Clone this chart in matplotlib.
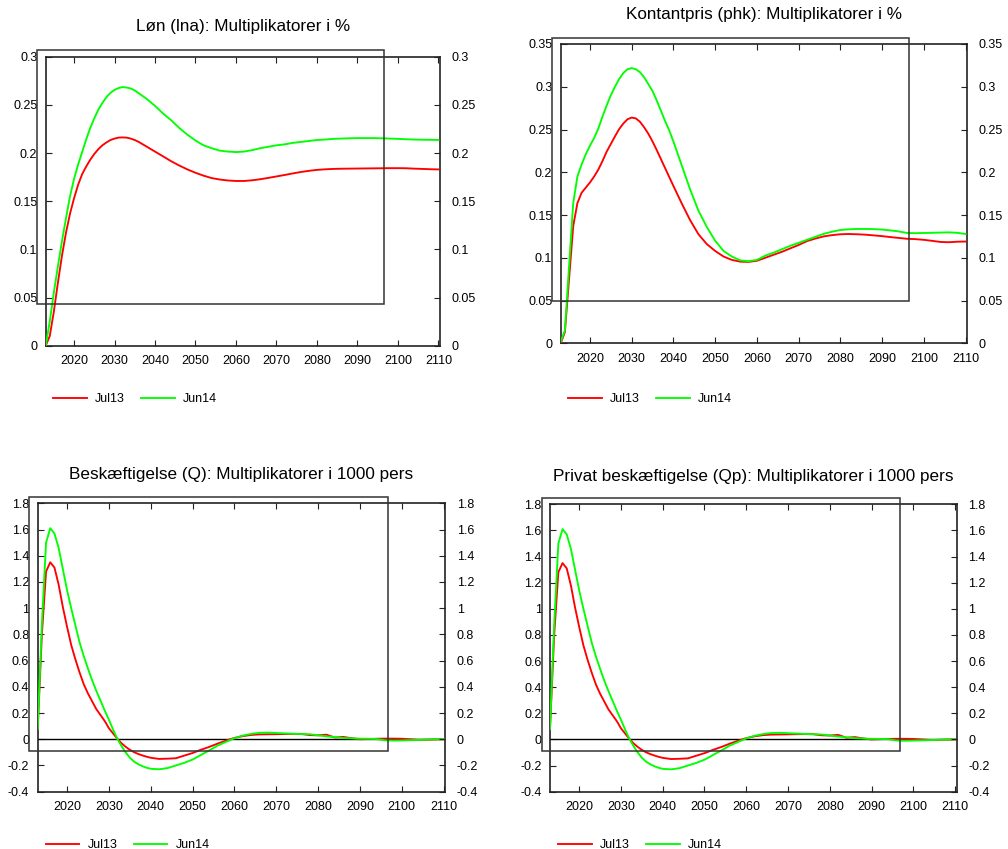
import matplotlib
matplotlib.use("Agg")
import matplotlib.pyplot as plt
from matplotlib.patches import Rectangle
from matplotlib.ticker import FuncFormatter

plt.rcParams['font.family'] = ['Liberation Sans', 'DejaVu Sans']

# ---------------- data ----------------
years = list(range(2013, 2041)) + list(range(2042, 2111, 2))

series_names = ["Jul13", "Jun14"]

titles = [
    "Løn (lna): Multiplikatorer i %",
    "Kontantpris (phk): Multiplikatorer i %",
    "Beskæftigelse (Q): Multiplikatorer i 1000 pers",
    "Privat beskæftigelse (Qp): Multiplikatorer i 1000 pers",
]

lon_jul13 = [0.000, 0.010, 0.035, 0.065, 0.093, 0.117, 0.137, 0.153, 0.167, 0.178,
             0.186, 0.193, 0.199, 0.204, 0.208, 0.211, 0.2135, 0.215, 0.216, 0.2162,
             0.216, 0.215, 0.2135, 0.2115, 0.209, 0.2065, 0.204, 0.2015,
             0.1965, 0.1915, 0.187, 0.183, 0.1795, 0.1765, 0.174, 0.1725, 0.1715, 0.171,
             0.171, 0.1717, 0.1728, 0.1742, 0.1757, 0.1772, 0.1788, 0.1803, 0.1815, 0.1825,
             0.1831, 0.1835, 0.1837, 0.1838, 0.1839, 0.184, 0.1841, 0.1842, 0.1843, 0.1843,
             0.1842, 0.1838, 0.1835, 0.1832, 0.183]
lon_jun14 = [0.000, 0.025, 0.055, 0.082, 0.108, 0.132, 0.155, 0.173, 0.188, 0.201,
             0.214, 0.226, 0.236, 0.245, 0.252, 0.258, 0.2625, 0.2655, 0.2675, 0.2685,
             0.268, 0.267, 0.265, 0.262, 0.259, 0.256, 0.2525, 0.249,
             0.241, 0.234, 0.226, 0.219, 0.213, 0.208, 0.205, 0.2025, 0.2015, 0.201,
             0.2015, 0.203, 0.205, 0.2065, 0.208, 0.209, 0.2105, 0.2115, 0.2125, 0.2135,
             0.214, 0.2147, 0.215, 0.2153, 0.2155, 0.2155, 0.2155, 0.2153, 0.215, 0.2147,
             0.2143, 0.214, 0.2138, 0.2137, 0.2136]

phk_jul13 = [0.000, 0.013, 0.075, 0.137, 0.164, 0.176, 0.182, 0.188, 0.195, 0.203,
             0.213, 0.224, 0.233, 0.242, 0.2505, 0.257, 0.262, 0.264, 0.263, 0.259,
             0.2525, 0.245, 0.236, 0.226, 0.2155, 0.205, 0.1945, 0.184,
             0.1635, 0.144, 0.1275, 0.116, 0.108, 0.1015, 0.0975, 0.0955, 0.0952, 0.0965,
             0.100, 0.1035, 0.107, 0.111, 0.115, 0.1195, 0.1225, 0.125, 0.1265, 0.1275,
             0.1278, 0.1275, 0.127, 0.1262, 0.1253, 0.1242, 0.1232, 0.1222, 0.1218, 0.121,
             0.1198, 0.1185, 0.1182, 0.1188, 0.119]
phk_jun14 = [0.002, 0.015, 0.090, 0.164, 0.195, 0.209, 0.221, 0.231, 0.240, 0.251,
             0.265, 0.278, 0.290, 0.300, 0.309, 0.316, 0.3205, 0.3218, 0.3205, 0.317,
             0.311, 0.303, 0.295, 0.284, 0.272, 0.260, 0.249, 0.236,
             0.208, 0.180, 0.155, 0.136, 0.120, 0.108, 0.1015, 0.097, 0.096, 0.0975,
             0.1025, 0.106, 0.110, 0.114, 0.1175, 0.121, 0.1245, 0.128, 0.1305, 0.1325,
             0.1333, 0.1337, 0.1337, 0.1335, 0.133, 0.132, 0.1308, 0.129, 0.1288, 0.129,
             0.1292, 0.1295, 0.1297, 0.1292, 0.1278]

q_jul13 = [0.08, 0.80, 1.28, 1.35, 1.31, 1.18, 1.01, 0.86, 0.72, 0.61,
           0.51, 0.42, 0.35, 0.29, 0.23, 0.185, 0.14, 0.085, 0.045, 0.005,
           -0.03, -0.057, -0.08, -0.098, -0.112, -0.123, -0.133, -0.141,
           -0.150, -0.148, -0.145, -0.125, -0.105, -0.08, -0.058, -0.033, -0.01, 0.01,
           0.024, 0.033, 0.037, 0.038, 0.039, 0.040, 0.041, 0.040, 0.032, 0.030,
           0.035, 0.013, 0.018, 0.008, 0.000, 0.002, 0.004, 0.005, 0.005, 0.004,
           0.000, -0.004, -0.003, -0.001, 0.000]
q_jun14 = [0.08, 0.88, 1.50, 1.61, 1.57, 1.46, 1.30, 1.14, 1.00, 0.87,
           0.74, 0.635, 0.54, 0.45, 0.37, 0.295, 0.22, 0.15, 0.075, 0.005,
           -0.05, -0.10, -0.14, -0.17, -0.19, -0.205, -0.217, -0.225,
           -0.229, -0.22, -0.20, -0.18, -0.155, -0.12, -0.085, -0.048, -0.02, 0.008,
           0.028, 0.041, 0.049, 0.051, 0.048, 0.045, 0.042, 0.040, 0.038, 0.030,
           0.022, 0.016, 0.010, 0.007, 0.005, 0.004, 0.002, -0.008, -0.010, -0.009,
           -0.007, -0.005, -0.003, -0.001, 0.002]

qp_jul13 = [0.08, 0.80, 1.28, 1.35, 1.31, 1.18, 1.01, 0.86, 0.72, 0.61,
            0.51, 0.42, 0.35, 0.29, 0.23, 0.185, 0.14, 0.085, 0.045, 0.005,
            -0.03, -0.057, -0.08, -0.098, -0.112, -0.123, -0.133, -0.141,
            -0.150, -0.148, -0.145, -0.125, -0.105, -0.08, -0.058, -0.033, -0.01, 0.01,
            0.024, 0.033, 0.037, 0.038, 0.039, 0.040, 0.041, 0.040, 0.032, 0.030,
            0.035, 0.013, 0.018, 0.008, 0.000, 0.002, 0.004, 0.005, 0.005, 0.004,
            0.000, -0.004, -0.003, -0.001, 0.000]
qp_jun14 = [0.08, 0.88, 1.50, 1.61, 1.57, 1.46, 1.30, 1.14, 1.00, 0.87,
            0.74, 0.635, 0.54, 0.45, 0.37, 0.295, 0.22, 0.15, 0.075, 0.005,
            -0.05, -0.10, -0.14, -0.17, -0.19, -0.205, -0.217, -0.225,
            -0.229, -0.22, -0.20, -0.18, -0.155, -0.12, -0.085, -0.048, -0.02, 0.008,
            0.028, 0.041, 0.049, 0.051, 0.048, 0.045, 0.042, 0.040, 0.038, 0.030,
            0.022, 0.016, 0.010, 0.007, 0.005, 0.004, 0.002, -0.008, -0.010, -0.009,
            -0.007, -0.005, -0.003, -0.001, 0.002]

x_ticks = list(range(2020, 2111, 10))
y_ticks_lon = [0, 0.05, 0.1, 0.15, 0.2, 0.25, 0.3]
y_ticks_phk = [0, 0.05, 0.1, 0.15, 0.2, 0.25, 0.3, 0.35]
y_ticks_q = [-0.4, -0.2, 0, 0.2, 0.4, 0.6, 0.8, 1.0, 1.2, 1.4, 1.6, 1.8]

# ---------------- layout ----------------
W, H = 1008, 849
fig = plt.figure(figsize=(W / 100, H / 100), dpi=100)

def px_axes(l, r, t, b):
    return [l / W, 1 - b / H, (r - l) / W, (b - t) / H]

panels = [
    dict(box=(45.7, 440, 56.7, 345.7), data=(lon_jul13, lon_jun14), ylim=(0, 0.3),
         yt=y_ticks_lon, zero=False, title_y=27, rect=(36.7, 384, 50, 304.3), leg=(53, 399)),
    dict(box=(560.7, 967.3, 44, 343.3), data=(phk_jul13, phk_jun14), ylim=(0, 0.35),
         yt=y_ticks_phk, zero=False, title_y=15, rect=(551.7, 909.3, 38.3, 301), leg=(568, 399)),
    dict(box=(37.7, 445.3, 503.3, 791.7), data=(q_jul13, q_jun14), ylim=(-0.4, 1.8),
         yt=y_ticks_q, zero=True, title_y=475, rect=(29.3, 388.3, 497.3, 750.7), leg=(45.7, 845)),
    dict(box=(550, 956.7, 504.3, 791.7), data=(qp_jul13, qp_jun14), ylim=(-0.4, 1.8),
         yt=y_ticks_q, zero=True, title_y=476, rect=(541.7, 900, 498.3, 750.7), leg=(558, 845)),
]

colors = ["#ff0000", "#00ff00"]
fmt = FuncFormatter(lambda v, p: f"{v:g}")
frame_col = "#222222"

for i, p in enumerate(panels):
    l, r, t, b = p["box"]
    ax = fig.add_axes(px_axes(l, r, t, b))
    for s, (vals, c) in enumerate(zip(p["data"], colors)):
        ax.plot(years, vals, color=c, lw=1.35, label=series_names[s], zorder=3)
    if p["zero"]:
        ax.axhline(0, color="black", lw=1.0, zorder=2)
    ax.set_xlim(2013, 2110.4)
    ax.set_ylim(*p["ylim"])
    ax.set_xticks(x_ticks)
    ax.set_yticks(p["yt"])
    ax.yaxis.set_major_formatter(fmt)
    ax.tick_params(direction="in", length=4, width=0.8, color=frame_col,
                   top=True, right=True, labelright=False, labelleft=True,
                   labelsize=9, labelcolor="black")
    ax.tick_params(axis="y", pad=6)
    ax.tick_params(axis="x", pad=7)
    for sp in ax.spines.values():
        sp.set_color(frame_col)
        sp.set_linewidth(1.2)

    # right-hand axis with the same scale and labels
    ax2 = ax.twinx()
    ax2.set_ylim(*p["ylim"])
    ax2.set_yticks(p["yt"])
    ax2.yaxis.set_major_formatter(fmt)
    ax2.tick_params(axis="y", direction="in", length=4, width=0.8, color=frame_col,
                    labelsize=9, labelcolor="black", pad=8.4)
    for sp in ax2.spines.values():
        sp.set_visible(False)

    fig.text((l + r) / 2 / W, 1 - p["title_y"] / H, titles[i], ha="center",
             va="center", fontsize=12.3)
    rx0, rx1, ry0, ry1 = p["rect"]
    fig.add_artist(Rectangle((rx0 / W, 1 - ry1 / H), (rx1 - rx0) / W, (ry1 - ry0) / H,
                             transform=fig.transFigure, fill=False, ec="#333333",
                             lw=1.1, zorder=5))
    lx, ly = p["leg"]
    ax.legend(loc="center left", bbox_to_anchor=(lx / W, 1 - ly / H),
              bbox_transform=fig.transFigure, ncol=2, frameon=False, fontsize=9,
              handlelength=2.7, handletextpad=0.65, columnspacing=1.3,
              borderpad=0, borderaxespad=0)

fig.savefig("out.png", dpi=100)
